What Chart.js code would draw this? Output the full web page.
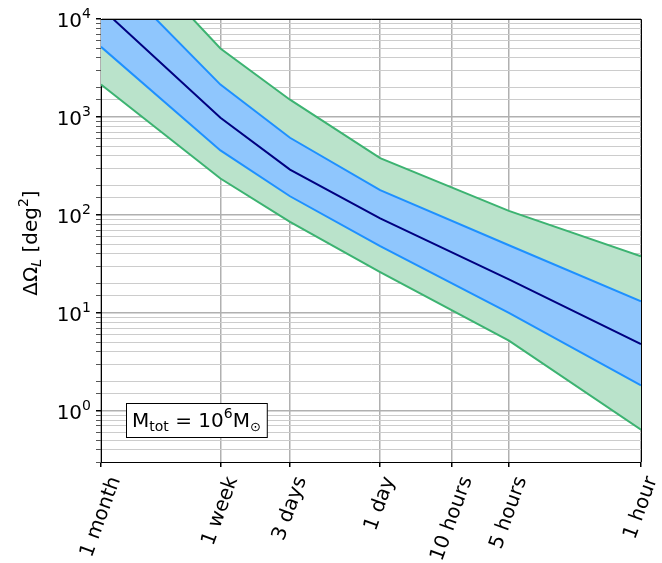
<!DOCTYPE html>
<html>
<head>
<meta charset="utf-8">
<script src="https://cdn.jsdelivr.net/npm/chart.js@4.4.1/dist/chart.umd.min.js"></script>
<style>
  html, body { margin: 0; padding: 0; background: #fff; }
  #wrap { width: 662px; height: 563px; }
</style>
</head>
<body>
<div id="wrap"><canvas id="skyChart" width="662" height="563"></canvas></div>
<script>
// time before merger, in hours
const hours = [720, 168, 72, 24, 5, 1];
const tickHours = [720, 168, 72, 24, 10, 5, 1];
const tickLabels = ['1 month', '1 week', '3 days', '1 day', '10 hours', '5 hours', '1 hour'];
const yTickValues = [1, 10, 100, 1000, 10000];

// sky localisation, deg^2
const median     = [13000, 980, 290, 92, 22, 4.8];
const blueUpper  = [37000, 2140, 613, 179, 49, 13.1];
const blueLower  = [5200, 455, 155, 48, 10, 1.82];
const greenUpper = [100000, 5000, 1500, 380, 110, 37.7];
const greenLower = [2140, 235, 85, 26, 5.2, 0.64];

const FONT = 'DejaVu Sans';
const FS = 20;

function pts(arr) {
  return hours.map((h, i) => ({ x: h, y: arr[i] }));
}

function isMajor(v) {
  const e = Math.log10(v);
  return Math.abs(e - Math.round(e)) < 1e-9;
}

// write a run of text pieces (normal / sub / superscript) starting at x
function drawParts(ctx, parts, x, y) {
  parts.forEach(p => {
    ctx.font = p.f;
    ctx.fillText(p.t, x, y + p.dy);
    x += ctx.measureText(p.t).width;
  });
  return x;
}
function partsWidth(ctx, parts) {
  let w = 0;
  parts.forEach(p => { ctx.font = p.f; w += ctx.measureText(p.t).width; });
  return w;
}

// tick labels, frame, y title and mass box
const extras = {
  id: 'extras',
  afterDraw(chart) {
    const ctx = chart.ctx;
    const a = chart.chartArea;
    const xs = chart.scales.x;
    const ys = chart.scales.y;
    ctx.save();
    ctx.strokeStyle = '#000';
    ctx.lineWidth = 1;
    ctx.beginPath();
    ctx.moveTo(a.left, a.top + 0.5);
    ctx.lineTo(a.right + 0.5, a.top + 0.5);
    ctx.lineTo(a.right + 0.5, a.bottom);
    ctx.stroke();
    ctx.fillStyle = '#000';

    // y tick labels 10^n
    yTickValues.forEach(v => {
      const py = ys.getPixelForValue(v);
      const parts = [
        { t: '10', f: FS + 'px ' + FONT, dy: 0 },
        { t: String(Math.round(Math.log10(v))), f: '14px ' + FONT, dy: -9 }
      ];
      const w = partsWidth(ctx, parts);
      drawParts(ctx, parts, 91 - w, py + 8);
    });

    // x tick labels, rotated 70 deg, centred on the tick
    const rot = 70 * Math.PI / 180;
    ctx.font = FS + 'px ' + FONT;
    ctx.textAlign = 'center';
    ctx.textBaseline = 'middle';
    tickHours.forEach((h, i) => {
      const px = xs.getPixelForValue(h);
      const L = ctx.measureText(tickLabels[i]).width;
      const hgt = L * Math.sin(rot) + FS * 1.17 * Math.cos(rot);
      ctx.save();
      ctx.translate(px, 473.5 + hgt / 2);
      ctx.rotate(-rot);
      ctx.fillText(tickLabels[i], 0, 0);
      ctx.restore();
    });
    ctx.textAlign = 'left';
    ctx.textBaseline = 'alphabetic';
    ctx.restore();

    // y axis title: ΔΩ_L [deg^2]
    ctx.save();
    ctx.translate(37, 243);
    ctx.rotate(-Math.PI / 2);
    ctx.fillStyle = '#000';
    const title = [
      { t: 'ΔΩ', f: FS + 'px ' + FONT, dy: 0 },
      { t: 'L', f: 'italic 14px ' + FONT, dy: 4 },
      { t: ' [deg', f: FS + 'px ' + FONT, dy: 0 },
      { t: '2', f: '14px ' + FONT, dy: -9 },
      { t: ']', f: FS + 'px ' + FONT, dy: 0 }
    ];
    drawParts(ctx, title, -partsWidth(ctx, title) / 2, 0);
    ctx.restore();

    // M_tot = 10^6 M_sun box
    ctx.save();
    const box = [
      { t: 'M', f: FS + 'px ' + FONT, dy: 0 },
      { t: 'tot', f: '14px ' + FONT, dy: 4 },
      { t: ' = 10', f: FS + 'px ' + FONT, dy: 0 },
      { t: '6', f: '14px ' + FONT, dy: -9 },
      { t: 'M', f: FS + 'px ' + FONT, dy: 0 },
      { t: '⊙', f: '13px ' + FONT, dy: 4 }
    ];
    const bw = partsWidth(ctx, box);
    const bx = 126, by = 403, bh = 34;
    ctx.fillStyle = '#fff';
    ctx.fillRect(bx + 0.5, by + 0.5, bw + 12, bh);
    ctx.strokeStyle = '#000';
    ctx.lineWidth = 1;
    ctx.strokeRect(bx + 0.5, by + 0.5, bw + 12, bh);
    ctx.fillStyle = '#000';
    drawParts(ctx, box, bx + 6, by + 24);
    ctx.restore();
  }
};

(function () {
  const el = document.getElementById('skyChart');
  if (!el) return;
  new Chart(el.getContext('2d'), {
    type: 'line',
    data: {
      datasets: [
        { label: 'median', data: pts(median), borderColor: '#000080', borderWidth: 2,
          pointRadius: 0, fill: false, order: 0 },
        { label: 'blue upper', data: pts(blueUpper), borderColor: '#1e90ff', borderWidth: 2,
          pointRadius: 0, fill: 2, backgroundColor: '#8fc6fd', order: 1 },
        { label: 'blue lower', data: pts(blueLower), borderColor: '#1e90ff', borderWidth: 2,
          pointRadius: 0, fill: false, order: 1 },
        { label: 'green upper', data: pts(greenUpper), borderColor: '#3cb371', borderWidth: 2,
          pointRadius: 0, fill: 4, backgroundColor: '#bae3cb', order: 2 },
        { label: 'green lower', data: pts(greenLower), borderColor: '#3cb371', borderWidth: 2,
          pointRadius: 0, fill: false, order: 2 }
      ]
    },
    options: {
      responsive: false,
      animation: false,
      layout: { padding: { top: 19, right: 21, bottom: 0, left: 0 } },
      plugins: {
        legend: { display: false },
        tooltip: { enabled: false },
        filler: { drawTime: 'beforeDatasetsDraw' }
      },
      scales: {
        x: {
          type: 'logarithmic',
          reverse: true,
          min: 1,
          max: 720,
          afterBuildTicks: function (scale) {
            scale.ticks = tickHours.map(v => ({ value: v }));
          },
          afterFit: function (scale) { scale.height = 101; },
          grid: { color: '#b0b0b0', lineWidth: 1.5, tickLength: 5, tickColor: '#000' },
          border: { color: '#000', width: 1 },
          ticks: {
            autoSkip: false,
            maxRotation: 0,
            callback: () => ''
          }
        },
        y: {
          type: 'logarithmic',
          min: 0.3,
          max: 10000,
          afterFit: function (scale) { scale.width = 101; },
          grid: {
            color: ctx => isMajor(ctx.tick.value) ? '#b0b0b0' : '#cccccc',
            lineWidth: ctx => isMajor(ctx.tick.value) ? 1.5 : 1,
            tickLength: 5,
            tickColor: ctx => isMajor(ctx.tick.value) ? '#000' : '#555'
          },
          border: { color: '#000', width: 1 },
          ticks: {
            autoSkip: false,
            callback: () => ''
          }
        }
      }
    },
    plugins: [extras]
  });
})();
</script>
</body>
</html>
